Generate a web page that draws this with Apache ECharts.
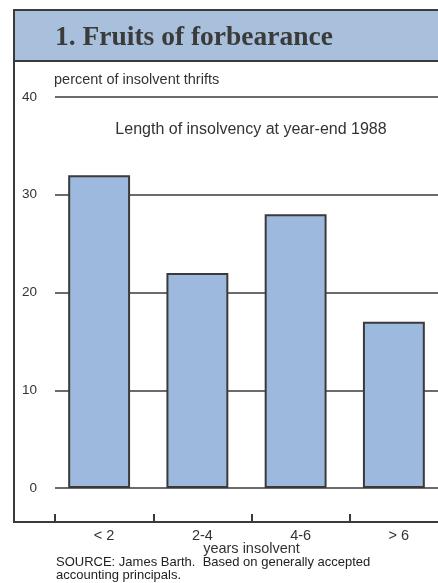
<!DOCTYPE html>
<html>
<head>
<meta charset="utf-8">
<script src="https://cdn.jsdelivr.net/npm/echarts@6/dist/echarts.min.js"></script>
<style>
  html, body { margin: 0; padding: 0; background: #ffffff; }
  #chart { width: 438px; height: 583px; }
</style>
</head>
<body>
<div id="chart"></div>
<script>
// Share of insolvent thrifts by length of insolvency, year-end 1988
const categories = ['< 2', '2-4', '4-6', '> 6'];
const percentInsolvent = [32, 22, 28, 17];
const yTicks = [0, 10, 20, 30, 40];

const ink = '#3a3a3a';
const sans = '"Liberation Sans", Arial, sans-serif';
const chart = echarts.init(document.getElementById('chart'), null, { renderer: 'canvas' });

chart.setOption({
  backgroundColor: '#ffffff',
  animation: false,
  grid: [
    // scale grid: value labels, rules and category ticks
    { left: 55, top: 97, width: 393, height: 391, outerBoundsMode: 'none' },
    // bar grid: same scale, bars set slightly left within each band
    { left: 50, top: 97, width: 393, height: 391, outerBoundsMode: 'none' }
  ],
  graphic: [
    // header band
    { type: 'rect', shape: { x: 14, y: 10, width: 440, height: 51 },
      style: { fill: '#a9c0dd', stroke: ink, lineWidth: 2 }, z: 0 },
    { type: 'text', x: 55, y: 38,
      style: { text: '1. Fruits of forbearance', fill: '#3b3b3b',
               font: 'bold 27.5px "Liberation Serif", "Times New Roman", serif',
               verticalAlign: 'middle' }, z: 2 },
    // frame: left and bottom rules
    { type: 'line', shape: { x1: 14, y1: 61, x2: 14, y2: 522 },
      style: { stroke: ink, lineWidth: 2 }, z: 1 },
    { type: 'line', shape: { x1: 13, y1: 522, x2: 440, y2: 522 },
      style: { stroke: ink, lineWidth: 2 }, z: 1 },
    // axis unit
    { type: 'text', x: 54, y: 80,
      style: { text: 'percent of insolvent thrifts', fill: '#333',
               font: '14.5px ' + sans, verticalAlign: 'middle' } },
    // subtitle
    { type: 'text', x: 251, y: 130,
      style: { text: 'Length of insolvency at year-end 1988', fill: '#333',
               font: '16px ' + sans, align: 'center', verticalAlign: 'middle' } },
    // source note
    { type: 'text', x: 56, y: 556,
      style: { text: 'SOURCE: James Barth.  Based on generally accepted\naccounting principals.',
               fill: '#222', lineHeight: 13, font: '13px ' + sans } }
  ],
  xAxis: [
    {
      type: 'category',
      gridIndex: 0,
      data: categories,
      offset: 34,
      axisLine: { show: false, onZero: false },
      axisTick: { show: true, inside: true, length: 8, alignWithLabel: false,
                  lineStyle: { color: ink, width: 2 } },
      axisLabel: { color: '#333', fontSize: 14.5, margin: 6, fontFamily: sans },
      name: 'years insolvent',
      nameLocation: 'middle',
      nameGap: 19,
      nameMoveOverlap: false,
      nameTextStyle: { color: '#333', fontSize: 14.5, fontFamily: sans }
    },
    {
      type: 'category',
      gridIndex: 1,
      data: categories,
      show: false
    }
  ],
  yAxis: [
    {
      type: 'value',
      gridIndex: 0,
      min: 0, max: 40, interval: 10,
      axisLine: { show: false },
      axisTick: { show: false },
      axisLabel: { color: '#333', fontSize: 13.5, margin: 18, fontFamily: sans,
                   customValues: yTicks },
      splitLine: { show: true, lineStyle: { color: ink, width: 1.6 } }
    },
    {
      type: 'value',
      gridIndex: 1,
      min: 0, max: 40, interval: 10,
      show: false,
      splitLine: { show: false }
    }
  ],
  series: [{
    type: 'bar',
    xAxisIndex: 1,
    yAxisIndex: 1,
    data: percentInsolvent,
    barCategoryGap: '37%',
    itemStyle: { color: '#9dbade', borderColor: ink, borderWidth: 2 },
    z: 3
  }]
});
</script>
</body>
</html>
